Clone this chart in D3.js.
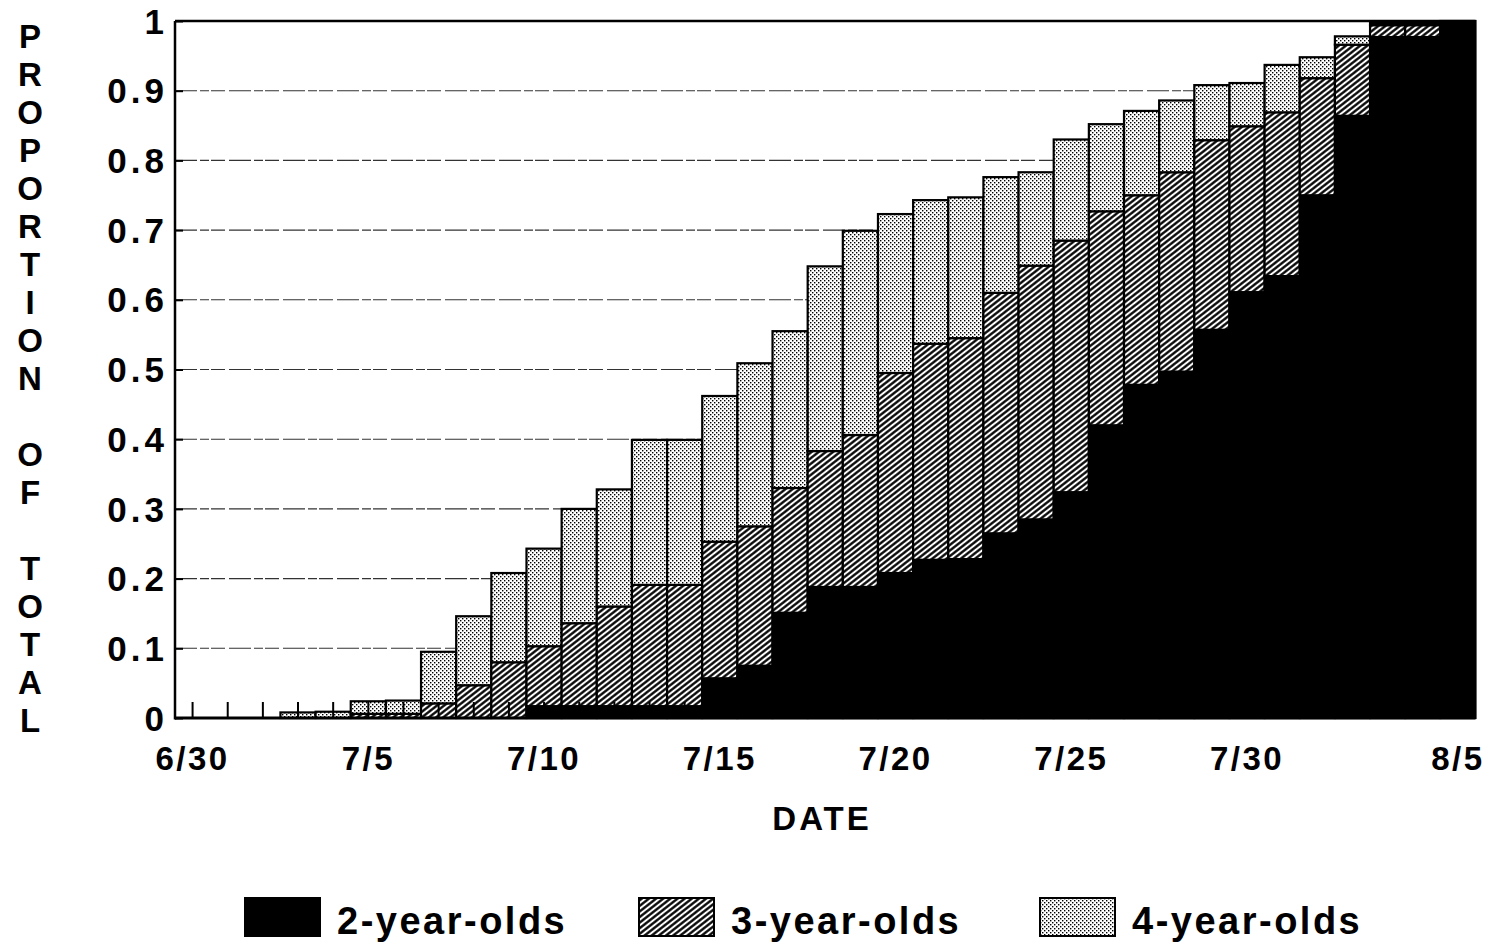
<!doctype html>
<html lang="en">
  <head>
    <meta charset="utf-8">
    <title>Proportion of total by date</title>
    <style>
      body{margin:0;background:#fff;}
      .holder{width:1492px;height:944px;}
      text{font-family:"Liberation Sans", Arial, Helvetica, sans-serif;font-weight:bold;fill:#000;}
    </style>
  </head>
  <body>
    <div class="holder"></div>
    <script src="https://cdn.jsdelivr.net/npm/d3@7"></script>
    <script>

      // dates, one bar per day
      var dates = ["6/30","7/1","7/2","7/3","7/4","7/5","7/6","7/7","7/8","7/9","7/10",
                   "7/11","7/12","7/13","7/14","7/15","7/16","7/17","7/18","7/19","7/20",
                   "7/21","7/22","7/23","7/24","7/25","7/26","7/27","7/28","7/29","7/30",
                   "7/31","8/1","8/2","8/3","8/4","8/5"];

      var tickDates = ["6/30","7/5","7/10","7/15","7/20","7/25","7/30","8/5"];
      var yTicks = [0,0.1,0.2,0.3,0.4,0.5,0.6,0.7,0.8,0.9,1];

      // cumulative proportion (stacked tops)
      var twoYear = [0,0,0,0,0,0,0,0,0,0,0.017,
                     0.017,0.017,0.017,0.017,0.057,0.075,0.151,0.188,0.188,0.208,
                     0.227,0.228,0.265,0.285,0.324,0.420,0.478,0.497,0.557,0.611,
                     0.634,0.750,0.864,0.977,0.977,1];
      var twoThree = [0,0,0,0,0,0.006,0.006,0.021,0.047,0.080,0.103,
                      0.136,0.160,0.191,0.191,0.253,0.275,0.330,0.383,0.406,0.495,
                      0.537,0.545,0.610,0.649,0.685,0.727,0.750,0.783,0.829,0.849,
                      0.869,0.918,0.966,0.994,0.994,1];
      var allAges = [0,0,0,0.008,0.009,0.024,0.025,0.095,0.146,0.208,0.243,
                     0.300,0.328,0.399,0.399,0.462,0.509,0.555,0.648,0.699,0.723,
                     0.743,0.747,0.776,0.783,0.830,0.852,0.871,0.886,0.908,0.911,
                     0.937,0.948,0.978,0.997,0.997,1];

      var legendNames = ["2-year-olds","3-year-olds","4-year-olds"];
      var yTitle = "PROPORTION OF TOTAL";

      var plotL = 175, plotR = 1475.5, plotT = 21, plotB = 718;

      var svg = d3.select(".holder").append("svg")
          .attr("width", 1492)
          .attr("height", 944);

      var defs = svg.append("defs");

      // hatching for 3-year-olds
      var hatch = defs.append("pattern")
          .attr("id", "hatch")
          .attr("patternUnits", "userSpaceOnUse")
          .attr("width", 10).attr("height", 4.4)
          .attr("patternTransform", "rotate(-38)");
      hatch.append("rect").attr("width", 10).attr("height", 4.4).attr("fill", "#fff");
      hatch.append("line").attr("x1", 0).attr("x2", 10).attr("y1", 2.2).attr("y2", 2.2)
          .attr("stroke", "#000").attr("stroke-width", 2.3);

      // stipple for 4-year-olds
      var dots = defs.append("pattern")
          .attr("id", "dots")
          .attr("patternUnits", "userSpaceOnUse")
          .attr("width", 4).attr("height", 4);
      dots.append("rect").attr("width", 4).attr("height", 4).attr("fill", "#fff");
      dots.append("rect").attr("width", 1.4).attr("height", 1.4).attr("fill", "#000");
      dots.append("rect").attr("x", 2).attr("y", 2).attr("width", 1.4).attr("height", 1.4).attr("fill", "#000");

      var x = d3.scaleBand().domain(dates).range([plotL, plotR]).padding(0);
      var y = d3.scaleLinear().domain([0, 1]).range([plotB, plotT]);

      //gridlines behind the bars
      svg.append("g").selectAll("line")
          .data(yTicks.filter(function(d){ return d > 0 && d < 1; }))
          .enter().append("line")
          .attr("x1", plotL).attr("x2", plotR)
          .attr("y1", function(d){ return y(d); })
          .attr("y2", function(d){ return y(d); })
          .attr("stroke", "#333")
          .attr("stroke-width", 1.1)
          .attr("stroke-dasharray", "22,3,9,2,14,4");

      //build the stacked segments
      var segs = [];
      dates.forEach(function(d, i){
        segs.push({date: d, y0: 0, y1: twoYear[i], fill: "#000"});
        segs.push({date: d, y0: twoYear[i], y1: twoThree[i], fill: "url(#hatch)"});
        segs.push({date: d, y0: twoThree[i], y1: allAges[i], fill: "url(#dots)"});
      });
      segs = segs.filter(function(s){ return s.y1 - s.y0 > 0.0005; });

      svg.append("g").selectAll("rect")
          .data(segs)
          .enter().append("rect")
          .attr("x", function(d){ return x(d.date); })
          .attr("width", x.bandwidth())
          .attr("y", function(d){ return y(d.y1); })
          .attr("height", function(d){ return y(d.y0) - y(d.y1); })
          .attr("fill", function(d){ return d.fill; })
          .attr("stroke", "#000")
          .attr("stroke-width", 2.2);

      //axes
      var xAxis = d3.axisBottom(x).tickSize(-16).tickFormat("");
      var gx = svg.append("g").attr("transform", "translate(0," + plotB + ")").call(xAxis);
      gx.select(".domain").remove();
      gx.selectAll("line").attr("stroke", "#000").attr("stroke-width", 2);

      var yAxis = d3.axisLeft(y).tickValues(yTicks).tickSize(-8).tickFormat("");
      var gy = svg.append("g").attr("transform", "translate(" + plotL + ",0)").call(yAxis);
      gy.select(".domain").remove();
      gy.selectAll("line").attr("stroke", "#000").attr("stroke-width", 2);

      svg.append("line").attr("x1", plotL).attr("x2", plotL).attr("y1", plotT).attr("y2", plotB + 1.5)
          .attr("stroke", "#000").attr("stroke-width", 2.5);
      svg.append("line").attr("x1", plotL).attr("x2", plotR).attr("y1", plotB).attr("y2", plotB)
          .attr("stroke", "#000").attr("stroke-width", 3);
      svg.append("line").attr("x1", plotL).attr("x2", plotR).attr("y1", plotT).attr("y2", plotT)
          .attr("stroke", "#000").attr("stroke-width", 2.5);

      //tick labels
      svg.append("g").selectAll("text")
          .data(yTicks)
          .enter().append("text")
          .attr("x", 168)
          .attr("y", function(d){ return y(d); })
          .attr("dy", "0.36em")
          .attr("text-anchor", "end")
          .style("font-size", "35px")
          .style("letter-spacing", "4px")
          .text(function(d){ return d; });

      svg.append("g").selectAll("text")
          .data(tickDates)
          .enter().append("text")
          .attr("x", function(d){ return x(d) + x.bandwidth() / 2; })
          .attr("y", 770)
          .attr("text-anchor", "middle")
          .style("font-size", "33px")
          .style("letter-spacing", "2.5px")
          .text(function(d){ return d; });

      svg.append("text")
          .attr("x", 822).attr("y", 830)
          .attr("text-anchor", "middle")
          .style("font-size", "33px")
          .style("letter-spacing", "3px")
          .text("DATE");

      //vertical y title, one letter per row
      svg.append("g").selectAll("text")
          .data(yTitle.split(""))
          .enter().append("text")
          .attr("x", 30)
          .attr("y", function(d, i){ return 36 + 38 * i; })
          .attr("dy", "0.36em")
          .attr("text-anchor", "middle")
          .style("font-size", "33px")
          .text(function(d){ return d; });

      //legend
      var legendFills = ["#000", "url(#hatch)", "url(#dots)"];
      var legendX = [245, 639, 1040];
      var lg = svg.append("g").selectAll("g")
          .data(legendNames)
          .enter().append("g")
          .attr("transform", function(d, i){ return "translate(" + legendX[i] + ",898)"; });
      lg.append("rect")
          .attr("width", 75).attr("height", 38)
          .attr("fill", function(d, i){ return legendFills[i]; })
          .attr("stroke", "#000").attr("stroke-width", 2);
      lg.append("text")
          .attr("x", 92).attr("y", 36)
          .style("font-size", "38px")
          .style("letter-spacing", "2.5px")
          .text(function(d){ return d; });

    </script>
  </body>
</html>
